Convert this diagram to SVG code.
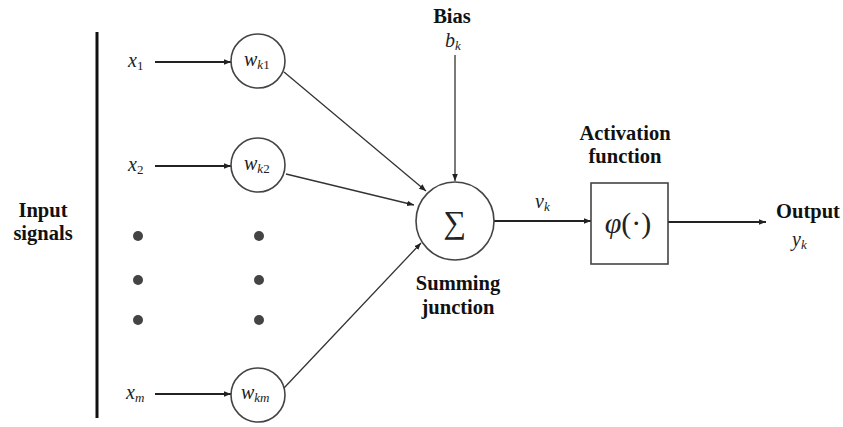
<svg xmlns="http://www.w3.org/2000/svg" width="843" height="427" viewBox="0 0 843 427">
<style>
text{font-family:'Liberation Serif','DejaVu Serif',serif}
.lbl{font-weight:bold;font-size:20.5px;fill:#111;text-anchor:middle}
.it{font-style:italic;font-size:20px;fill:#222}
.sub{font-size:13px}
.node{fill:#fff;stroke:#444;stroke-width:1.6}
.edge{stroke:#333;stroke-width:1.3;fill:none}
.thick{stroke:#222;stroke-width:2}
.dot{fill:#444}
</style>
<defs>
<marker id="ah" viewBox="0 0 10 10" refX="10" refY="5" markerWidth="7" markerHeight="7" markerUnits="userSpaceOnUse" orient="auto">
<path d="M0,1 L10,5 L0,9 z" fill="#222"/>
</marker>
</defs>
<rect width="843" height="427" fill="#fff"/>
<line x1="97" y1="32" x2="97" y2="418" stroke="#111" stroke-width="3"/>
<g id="input-label"><text class="lbl" x="43" y="217">Input</text><text class="lbl" x="43" y="240">signals</text></g>
<g id="x1"><text class="it" x="128" y="67">x<tspan class="sub" dy="3" font-style="normal">1</tspan></text></g>
<g id="x2"><text class="it" x="128" y="171">x<tspan class="sub" dy="3" font-style="normal">2</tspan></text></g>
<g id="xm"><text class="it" x="126" y="399">x<tspan class="sub" dy="3">m</tspan></text></g>
<g id="dots">
<circle class="dot" cx="138" cy="236" r="5"/><circle class="dot" cx="138" cy="280" r="5"/><circle class="dot" cx="138" cy="320" r="5"/>
<circle class="dot" cx="259" cy="236" r="5"/><circle class="dot" cx="259" cy="280" r="5"/><circle class="dot" cx="259" cy="320" r="5"/>
</g>
<g id="connectors">
<line class="edge thick" x1="155" y1="62" x2="231" y2="62" marker-end="url(#ah)"/>
<line class="edge thick" x1="155" y1="166" x2="231" y2="166" marker-end="url(#ah)"/>
<line class="edge thick" x1="155" y1="394" x2="231" y2="394" marker-end="url(#ah)"/>
<line class="edge" x1="284" y1="72" x2="426" y2="191" marker-end="url(#ah)"/>
<line class="edge" x1="286" y1="174" x2="414" y2="205" marker-end="url(#ah)"/>
<line class="edge" x1="284" y1="388" x2="421" y2="243" marker-end="url(#ah)"/>
<line class="edge" x1="455" y1="55" x2="455" y2="181" marker-end="url(#ah)"/>
<line class="edge thick" x1="494" y1="221" x2="591" y2="221" marker-end="url(#ah)"/>
<line class="edge thick" x1="668" y1="222" x2="766" y2="222" marker-end="url(#ah)"/>
</g>
<g id="wk1"><circle class="node" cx="258" cy="61" r="27"/><text class="it" x="244" y="66">w<tspan class="sub" dy="3">k</tspan><tspan class="sub" font-style="normal">1</tspan></text></g>
<g id="wk2"><circle class="node" cx="258" cy="165" r="27"/><text class="it" x="244" y="170">w<tspan class="sub" dy="3">k</tspan><tspan class="sub" font-style="normal">2</tspan></text></g>
<g id="wkm"><circle class="node" cx="258" cy="395" r="27"/><text class="it" x="241" y="399">w<tspan class="sub" dy="3">km</tspan></text></g>
<g id="bias"><text class="lbl" x="452" y="23">Bias</text><text class="it" x="445" y="47">b<tspan class="sub" dy="3">k</tspan></text></g>
<g id="sum"><circle class="node" cx="455" cy="221" r="39"/><text x="455" y="233" font-family="DejaVu Serif,serif" font-size="32" fill="#222" text-anchor="middle">∑</text>
<text class="lbl" x="458" y="290">Summing</text><text class="lbl" x="458" y="314">junction</text></g>
<g id="vk"><text class="it" x="535" y="208">v<tspan class="sub" dy="3">k</tspan></text></g>
<g id="activation"><text class="lbl" x="625" y="140">Activation</text><text class="lbl" x="625" y="163">function</text>
<rect class="node" x="591" y="183" width="77" height="81"/>
<text x="628" y="233" font-size="30" fill="#222" text-anchor="middle"><tspan font-style="italic">φ</tspan>(·)</text></g>
<g id="output"><text class="lbl" x="808" y="218">Output</text><text class="it" x="792" y="246">y<tspan class="sub" dy="3">k</tspan></text></g>
</svg>
